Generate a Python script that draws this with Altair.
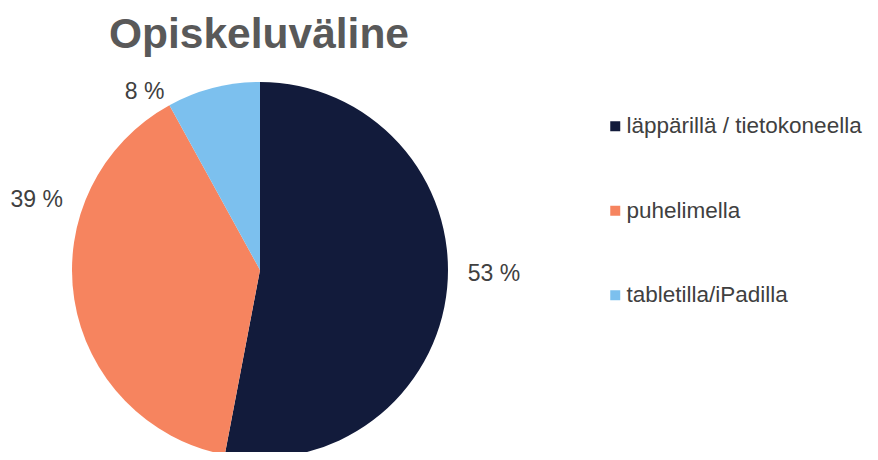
import altair as alt
import pandas as pd

TITLE = "Opiskeluväline"
categories = ["läppärillä / tietokoneella", "puhelimella", "tabletilla/iPadilla"]
values = [53, 39, 8]
labels = ["53 %", "39 %", "8 %"]
colors = ["#121b3b", "#f6845f", "#7cc0ee"]

df = pd.DataFrame({"cat": categories, "val": values, "label": labels, "idx": list(range(len(categories)))})

CX, CY, R = 252, 262, 188
FONT = "Liberation Sans"
TXT = "#404040"

pie = alt.Chart(df).mark_arc(outerRadius=R).encode(
    theta=alt.Theta("val:Q", stack=True),
    order=alt.Order("idx:Q"),
    x=alt.value(CX),
    y=alt.value(CY),
    color=alt.Color(
        "cat:N",
        scale=alt.Scale(domain=categories, range=colors),
        legend=alt.Legend(
            title=None, orient="none", legendX=596, legendY=107,
            symbolType="square", symbolSize=100, symbolStrokeWidth=0,
            labelFontSize=22.5, labelFont=FONT, labelColor=TXT,
            rowPadding=61.5, labelOffset=0, padding=0, labelLimit=400,
        ),
    ),
)

# label placement offsets (style) per slice
offsets = [(20, -16), (-11, -104), (-62, 30)]

lab_base = alt.Chart(df).transform_window(
    cum="sum(val)", sort=[alt.SortField("idx")]
).transform_joinaggregate(total="sum(val)").transform_calculate(
    mid="(datum.cum - datum.val / 2) / datum.total"
)

label_layers = []
for i, (ddx, ddy) in enumerate(offsets):
    label_layers.append(
        lab_base.transform_filter(alt.datum.idx == i).mark_text(
            radius=215, dx=ddx, dy=ddy, fontSize=23, font=FONT, color=TXT
        ).encode(
            theta=alt.Theta("mid:Q", scale=alt.Scale(domain=[0, 1]), stack=None),
            x=alt.value(CX),
            y=alt.value(CY),
            text="label:N",
        )
    )

labels_layer = alt.layer(*label_layers)

title = alt.Chart(pd.DataFrame({"t": [TITLE]})).mark_text(
    fontSize=42.5, fontWeight="bold", color="#595959", font=FONT,
    baseline="alphabetic", align="center"
).encode(x=alt.value(251), y=alt.value(40), text="t:N")

chart = alt.layer(pie, labels_layer, title).resolve_scale(
    theta="independent"
).properties(
    width=862, height=444,
    autosize=alt.AutoSizeParams(type="none"),
    padding=0,
).configure_view(stroke=None)

chart.save("out.html", embed_options={"renderer": "svg", "actions": False})
